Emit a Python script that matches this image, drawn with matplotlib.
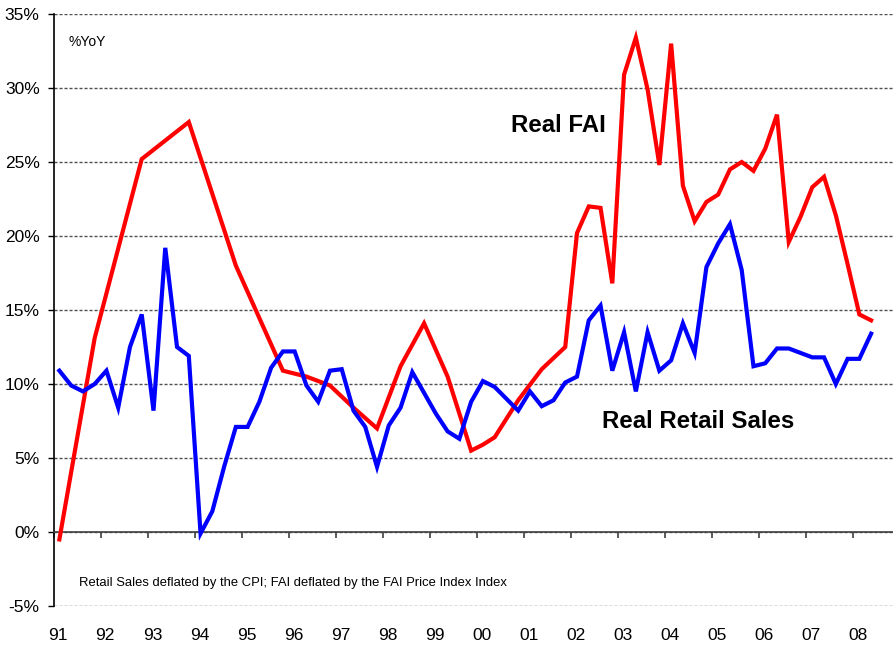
import matplotlib
matplotlib.use("Agg")
import matplotlib.pyplot as plt
from matplotlib.transforms import blended_transform_factory

# ---------------- data ----------------
year_labels = ['91', '92', '93', '94', '95', '96', '97', '98', '99', '00',
               '01', '02', '03', '04', '05', '06', '07', '08']
years = list(range(1991, 2009))

# Real retail sales, %YoY, quarterly from 1991Q1
retail_start = '1991Q1'
retail_sales = [10.9, 9.9, 9.5, 10.0, 10.9, 8.4, 12.5, 14.7, 8.2, 19.2, 12.5, 11.9,
                -0.1, 1.4, 4.4, 7.1, 7.1, 8.8, 11.1, 12.2, 12.2, 9.9, 8.8, 10.9,
                11.0, 8.2, 7.1, 4.4, 7.2, 8.4, 10.8, 9.4, 8.0, 6.8, 6.3, 8.8,
                10.2, 9.8, 9.0, 8.2, 9.5, 8.5, 8.9, 10.1, 10.5, 14.3, 15.3, 10.9,
                13.5, 9.5, 13.5, 10.9, 11.6, 14.1, 12.1, 17.9, 19.5, 20.8, 17.7, 11.2,
                11.4, 12.4, 12.4, 12.1, 11.8, 11.8, 10.0, 11.7, 11.7, 13.4]

# Real FAI, %YoY (irregular observations)
fai_periods = ['1991Q1', '1991Q4', '1992Q4', '1993Q4', '1994Q4', '1995Q4',
               '1996Q2', '1996Q4', '1997Q2', '1997Q4', '1998Q2', '1998Q4',
               '1999Q2', '1999Q4', '2000Q1', '2000Q2', '2000Q4', '2001Q2',
               '2001Q4', '2002Q1', '2002Q2', '2002Q3', '2002Q4', '2003Q1',
               '2003Q2', '2003Q3', '2003Q4', '2004Q1', '2004Q2', '2004Q3',
               '2004Q4', '2005Q1', '2005Q2', '2005Q3', '2005Q4', '2006Q1',
               '2006Q2', '2006Q3', '2006Q4', '2007Q1', '2007Q2', '2007Q3',
               '2007Q4', '2008Q1', '2008Q2']
fai_values = [-0.5, 13.1, 25.2, 27.7, 18.0, 10.9,
              10.5, 9.9, 8.4, 7.0, 11.2, 14.1,
              10.5, 5.5, 5.9, 6.4, 8.9, 11.0,
              12.5, 20.2, 22.0, 21.9, 16.8, 30.9,
              33.4, 29.9, 24.8, 33.0, 23.4, 21.0,
              22.3, 22.8, 24.5, 25.0, 24.4, 25.9,
              28.2, 19.6, 21.3, 23.3, 24.0, 21.4,
              18.1, 14.7, 14.3]

y_ticks = [-5, 0, 5, 10, 15, 20, 25, 30, 35]


def qpos(p):
    y, q = p.split('Q')
    return int(y) + (int(q) - 1) * 0.25 + 0.125


r0 = qpos(retail_start)
retail_x = [r0 + 0.25 * i for i in range(len(retail_sales))]
fai_x = [qpos(p) for p in fai_periods]

# ---------------- figure ----------------
plt.rcParams['font.family'] = ['Liberation Sans', 'DejaVu Sans']
fig = plt.figure(figsize=(8.93, 6.45), dpi=100)
ax = fig.add_axes([53.5 / 893, 1 - 606 / 645, 1 - 53.5 / 893, (606 - 14) / 645])

ax.set_xlim(1991.0, 2008.84)
ax.set_ylim(-5, 35)

for v in y_ticks:
    ax.axhline(v, color='#505050', lw=1.0, ls=(0, (2.2, 1.4)), zorder=1)

ax.plot(fai_x, fai_values, color='#FF0000', lw=3.0, solid_joinstyle='miter', zorder=3)
ax.plot(retail_x, retail_sales, color='#0000FF', lw=3.0, solid_joinstyle='miter', zorder=4)

# axes styling
for s in ['top', 'right']:
    ax.spines[s].set_visible(False)
ax.spines['left'].set_color('black')
ax.spines['left'].set_linewidth(1.2)
ax.spines['bottom'].set_position(('data', 0))
ax.spines['bottom'].set_color('#404040')
ax.spines['bottom'].set_linewidth(1.2)

ax.set_yticks(y_ticks)
ax.set_yticklabels([f'{v}%' for v in y_ticks], fontsize=12.5)
ax.tick_params(axis='y', direction='out', length=4, width=1, pad=6)

ax.set_xticks(years)
ax.set_xticklabels([])
ax.tick_params(axis='x', direction='out', length=4.5, width=1.2, color='#404040')

trans = blended_transform_factory(ax.transData, ax.transAxes)
for yr, lab in zip(years, year_labels):
    ax.text(yr + 0.1, -0.049, lab, transform=trans, ha='center', va='center',
            fontsize=12.5)

ax.text(1991.31, 33.1, '%YoY', fontsize=10, va='center', ha='left')
ax.text(1991.54, -3.45,
        'Retail Sales deflated by the CPI; FAI deflated by the FAI Price Index Index',
        fontsize=9.35, va='center', ha='left')
ax.text(2000.72, 27.5, 'Real FAI', fontsize=17.3, fontweight='bold',
        va='center', ha='left')
ax.text(2002.66, 7.45, 'Real Retail Sales', fontsize=17.3, fontweight='bold',
        va='center', ha='left')

fig.savefig('out.png', dpi=100)
